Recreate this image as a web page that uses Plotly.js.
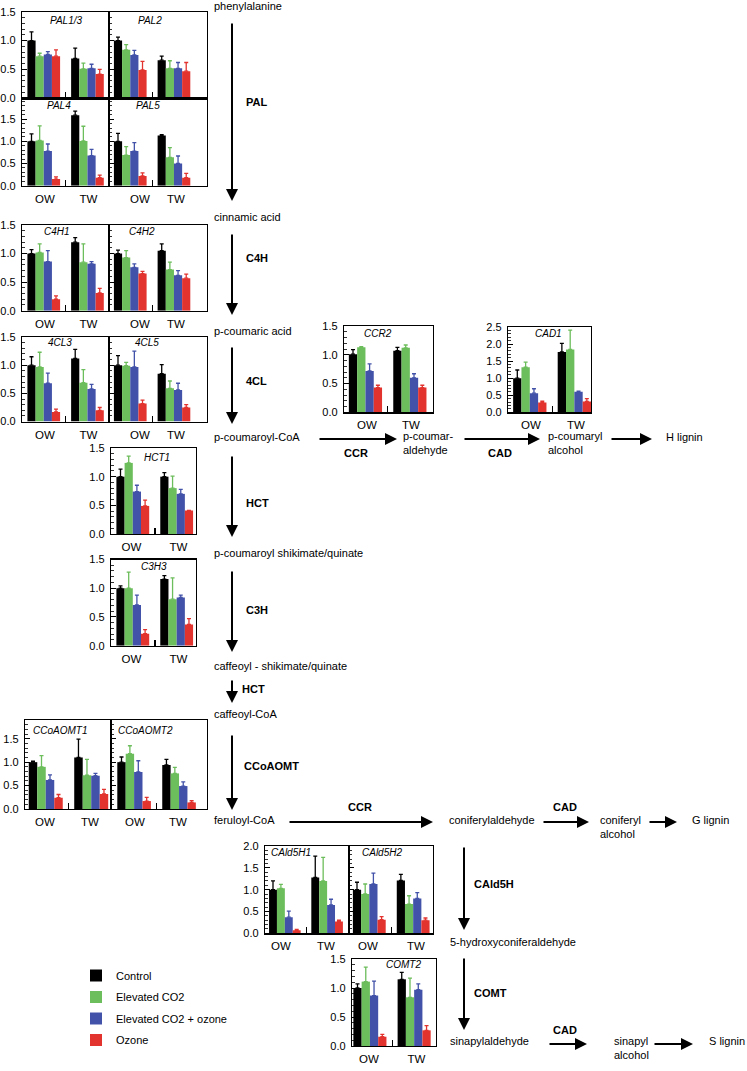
<!DOCTYPE html>
<html><head><meta charset="utf-8">
<script src="https://cdn.plot.ly/plotly-3.0.1.min.js"></script>
<style>html,body{margin:0;padding:0;background:#fff}#chart{width:747px;height:1071px}</style>
</head><body><div id="chart"></div>
<script>
const FONT = 'Liberation Sans, Arial, Helvetica, sans-serif';
const treatments = ['Control', 'Elevated CO2', 'Elevated CO2 + ozone', 'Ozone'];
const sites = ['OW', 'TW'];
const colors = ['#000000', '#6cbd5b', '#4252a8', '#e2332f'];

// values: [OW: Control, CO2, CO2+O3, O3,  TW: Control, CO2, CO2+O3, O3]
const PAL13        = [1.00, 0.73, 0.76, 0.73,  0.69, 0.51, 0.52, 0.42];
const PAL13_err    = [0.15, 0.05, 0.05, 0.11,  0.18, 0.10, 0.07, 0.08];
const PAL2         = [1.00, 0.84, 0.75, 0.49,  0.66, 0.52, 0.52, 0.47];
const PAL2_err     = [0.06, 0.09, 0.08, 0.15,  0.07, 0.13, 0.10, 0.15];
const PAL4         = [1.00, 1.02, 0.78, 0.15,  1.59, 1.01, 0.68, 0.18];
const PAL4_err     = [0.17, 0.33, 0.16, 0.05,  0.09, 0.33, 0.14, 0.06];
const PAL5         = [1.00, 0.69, 0.78, 0.22,  1.13, 0.64, 0.50, 0.18];
const PAL5_err     = [0.18, 0.19, 0.19, 0.07,  0.02, 0.22, 0.17, 0.10];
const C4H1         = [1.00, 1.02, 0.86, 0.20,  1.20, 0.85, 0.82, 0.31];
const C4H1_err     = [0.07, 0.15, 0.19, 0.06,  0.08, 0.32, 0.04, 0.08];
const C4H2         = [1.00, 0.93, 0.76, 0.65,  1.05, 0.72, 0.62, 0.57];
const C4H2_err     = [0.06, 0.12, 0.06, 0.04,  0.12, 0.13, 0.08, 0.07];
const CL3          = [1.00, 0.97, 0.68, 0.17,  1.12, 0.69, 0.58, 0.20];
const CL3_err      = [0.15, 0.26, 0.18, 0.05,  0.16, 0.23, 0.08, 0.05];
const CL5          = [1.00, 0.99, 0.97, 0.32,  0.85, 0.59, 0.56, 0.25];
const CL5_err      = [0.17, 0.06, 0.28, 0.06,  0.16, 0.13, 0.12, 0.05];
const HCT1         = [1.00, 1.24, 0.74, 0.49,  1.00, 0.80, 0.70, 0.41];
const HCT1_err     = [0.13, 0.12, 0.11, 0.10,  0.07, 0.21, 0.08, 0.00];
const C3H3         = [1.00, 1.00, 0.71, 0.21,  1.16, 0.81, 0.84, 0.37];
const C3H3_err     = [0.04, 0.28, 0.17, 0.07,  0.06, 0.37, 0.04, 0.10];
const CCR2         = [1.01, 1.13, 0.72, 0.43,  1.07, 1.12, 0.60, 0.43];
const CCR2_err     = [0.08, 0.01, 0.12, 0.04,  0.06, 0.05, 0.07, 0.04];
const CAD1         = [1.00, 1.32, 0.56, 0.29,  1.77, 1.84, 0.60, 0.32];
const CAD1_err     = [0.24, 0.15, 0.13, 0.04,  0.25, 0.57, 0.02, 0.08];
const CCoAOMT1     = [1.00, 0.90, 0.62, 0.24,  1.10, 0.72, 0.71, 0.32];
const CCoAOMT1_err = [0.02, 0.24, 0.11, 0.07,  0.39, 0.34, 0.05, 0.10];
const CCoAOMT2     = [1.00, 1.18, 0.79, 0.17,  0.94, 0.76, 0.49, 0.14];
const CCoAOMT2_err = [0.11, 0.17, 0.24, 0.08,  0.12, 0.13, 0.09, 0.04];
const CAld5H1      = [1.00, 1.03, 0.37, 0.07,  1.28, 1.20, 0.65, 0.27];
const CAld5H1_err  = [0.20, 0.09, 0.14, 0.02,  0.49, 0.54, 0.13, 0.03];
const CAld5H2      = [1.00, 0.90, 1.13, 0.31,  1.21, 0.67, 0.80, 0.30];
const CAld5H2_err  = [0.17, 0.23, 0.25, 0.07,  0.14, 0.19, 0.13, 0.05];
const COMT2        = [1.00, 1.11, 0.87, 0.16,  1.15, 0.84, 0.97, 0.27];
const COMT2_err    = [0.07, 0.25, 0.25, 0.04,  0.12, 0.33, 0.10, 0.08];

// pathway text
const compounds = ['phenylalanine', 'cinnamic acid', 'p-coumaric acid', 'p-coumaroyl-CoA',
  'p-coumaroyl shikimate/quinate', 'caffeoyl - shikimate/quinate', 'caffeoyl-CoA', 'feruloyl-CoA'];

const W = 747, H = 1071;
const fx = x => x / W, fy = y => 1 - y / H;
const OWpos = [0, 1, 2, 3], TWpos = [5.35, 6.35, 7.35, 8.35], midTick = 4.2;

const panels = [
 {gene:'PAL1/3', v:PAL13, e:PAL13_err, box:[22,109,11.7,98.3], bc:31.5, u:8.17, ymax:1.5, ylab:true, lab:null, tt:[65.5,20]},
 {gene:'PAL2', v:PAL2, e:PAL2_err, box:[109,207,11.7,98.3], bc:118, u:8.17, ymax:1.5, ylab:false, lab:null, tt:[150,20]},
 {gene:'PAL4', v:PAL4, e:PAL4_err, box:[22,109,98.3,185.7], bc:31.5, u:8.17, ymax:1.97, ylab:true, lab:[45,88.5], tt:[58.5,106]},
 {gene:'PAL5', v:PAL5, e:PAL5_err, box:[109,207,98.3,185.7], bc:118, u:8.17, ymax:1.97, ylab:false, lab:[140,176], tt:[148,106]},
 {gene:'C4H1', v:C4H1, e:C4H1_err, box:[22,109,225,310.7], bc:31.5, u:8.17, ymax:1.5, ylab:true, lab:[45,88.5], tt:[56.5,231]},
 {gene:'C4H2', v:C4H2, e:C4H2_err, box:[109,207,225,310.7], bc:118, u:8.17, ymax:1.5, ylab:false, lab:[140,176], tt:[142,231]},
 {gene:'4CL3', v:CL3, e:CL3_err, box:[22,109,337,421.6], bc:31.5, u:8.17, ymax:1.5, ylab:true, lab:[45,88.5], tt:[60.5,343]},
 {gene:'4CL5', v:CL5, e:CL5_err, box:[109,207,337,421.6], bc:118, u:8.17, ymax:1.5, ylab:false, lab:[140,176], tt:[146.5,343]},
 {gene:'HCT1', v:HCT1, e:HCT1_err, box:[111,196,448,534], bc:120.5, u:8.2, ymax:1.5, ylab:true, lab:[131.5,178.5], tt:[156.7,457]},
 {gene:'C3H3', v:C3H3, e:C3H3_err, box:[111,196,559.5,645.7], bc:120.5, u:8.2, ymax:1.5, ylab:true, lab:[131.5,178.5], tt:[154,566]},
 {gene:'CCR2', v:CCR2, e:CCR2_err, box:[344,433,326,412.3], bc:353, u:8.3, ymax:1.5, ylab:true, lab:[367,411], tt:[378,333]},
 {gene:'CAD1', v:CAD1, e:CAD1_err, box:[508,591,327,412.3], bc:517.3, u:8.33, ymax:2.5, ylab:true, lab:[531,576], tt:[548,333]},
 {gene:'CCoAOMT1', v:CCoAOMT1, e:CCoAOMT1_err, box:[25,111,720,809], bc:33, u:8.5, ymax:1.9, ylab:true, lab:[45,90], tt:[60,730]},
 {gene:'CCoAOMT2', v:CCoAOMT2, e:CCoAOMT2_err, box:[111,207,720,809], bc:121.5, u:8.4, ymax:1.9, ylab:false, lab:[135,178], tt:[145.5,730]},
 {gene:'CAld5H1', v:CAld5H1, e:CAld5H1_err, box:[265,349,846,933.3], bc:273, u:7.9, ymax:2.0, ylab:true, lab:[281,326], tt:[290.5,852.5]},
 {gene:'CAld5H2', v:CAld5H2, e:CAld5H2_err, box:[349,433,846,933.3], bc:357, u:8.2, ymax:2.0, ylab:false, lab:[368,416], tt:[382,852.5]},
 {gene:'COMT2', v:COMT2, e:COMT2_err, box:[352,436,959,1046], bc:357.5, u:8.27, ymax:1.5, ylab:true, lab:[369,416.5], tt:[404,964]}
];

const traces = [];
const layout = {
  width: W, height: H, autosize: false,
  margin: {l:0, r:0, t:0, b:0, pad:0},
  paper_bgcolor: '#fff', plot_bgcolor: '#fff',
  font: {family: FONT, size: 11, color: '#000'},
  barmode: 'overlay', showlegend: true,
  legend: {x: fx(76), y: fy(961), xanchor:'left', yanchor:'top', font:{family:FONT, size:11, color:'#000'},
           tracegroupgap: 2.5, bgcolor:'rgba(0,0,0,0)', borderwidth:0},
  annotations: [], shapes: []
};

panels.forEach((p, i) => {
  const n = i + 1, sfx = n === 1 ? '' : String(n);
  const [x0, x1, yt, yb] = p.box;
  treatments.forEach((t, k) => {
    traces.push({
      type:'bar', x:[OWpos[k], TWpos[k]], y:[p.v[k], p.v[4+k]], width:[1,1],
      name:t, legendgroup:t, showlegend: i === 0,
      marker:{color:colors[k], line:{width:0}},
      error_y:{type:'data', symmetric:false, array:[p.e[k], p.e[4+k]], arrayminus:[0,0],
               color:colors[k], thickness:1.3, width:2},
      xaxis:'x'+sfx, yaxis:'y'+sfx, hoverinfo:'skip'
    });
  });
  const toU = px => (px - p.bc) / p.u;
  layout['xaxis'+sfx] = {
    domain:[fx(x0), fx(x1)], range:[toU(x0), toU(x1)], anchor:'y'+sfx,
    showline:true, mirror:true, linecolor:'#000', linewidth:1.2,
    showgrid:false, zeroline:false, fixedrange:true,
    tickmode:'array', tickvals: p.lab ? [toU(p.lab[0]), toU(p.lab[1])] : [],
    ticktext: sites, ticks:'', showticklabels: !!p.lab, ticklabelstandoff: 2,
    tickfont:{family:FONT, size:11.5, color:'#000'},
    minor:{tickmode:'array', tickvals:[midTick], ticks:'inside', ticklen:6, tickwidth:1.2, tickcolor:'#000', showgrid:false}
  };
  layout['yaxis'+sfx] = {
    domain:[fy(yb), fy(yt)], range:[0, p.ymax], anchor:'x'+sfx,
    showline:true, mirror:true, linecolor:'#000', linewidth:1.2,
    showgrid:false, zeroline:false, fixedrange:true,
    tickmode:'linear', tick0:0, dtick:0.5, tickformat:'.1f',
    ticks:'inside', ticklen:5, tickwidth:1, tickcolor:'#000',
    showticklabels: p.ylab, ticklabelstandoff: 3,
    tickfont:{family:FONT, size:11, color:'#000'},
    minor:{dtick:0.1, tick0:0, ticks:'inside', ticklen:2.5, tickwidth:0.8, tickcolor:'#000', showgrid:false}
  };
  layout.annotations.push({xref:'paper', yref:'paper', x:fx(p.tt[0]), y:fy(p.tt[1]),
    text:'<i>'+p.gene+'</i>', showarrow:false, xanchor:'center', yanchor:'middle',
    font:{family:FONT, size:10, color:'#000'}});
});

function txt(s, x, y, xa) {
  return {xref:'paper', yref:'paper', x:fx(x), y:fy(y), text:s, showarrow:false,
          xanchor: xa || 'left', yanchor:'middle', align:'left',
          font:{family:FONT, size:11, color:'#000'}};
}
function arrow(x0, y0, x1, y1) {
  return {xref:'paper', yref:'paper', x:fx(x1), y:fy(y1), ax:x0-x1, ay:y0-y1,
          axref:'pixel', ayref:'pixel', text:'', showarrow:true, arrowhead:2,
          arrowsize:1.2, arrowwidth:2, arrowcolor:'#000', standoff:0, startstandoff:0};
}

const A = layout.annotations;
// left column compounds
[6, 217, 331, 437, 553, 666, 714, 820].forEach((y, i) => A.push(txt(compounds[i], 212, y)));
// vertical arrows in left column with enzyme labels
A.push(arrow(232, 22, 232, 201));   A.push(txt('<b>PAL</b>', 244, 102));
A.push(arrow(232, 233, 232, 315));  A.push(txt('<b>C4H</b>', 244, 258));
A.push(arrow(232, 346, 232, 424));  A.push(txt('<b>4CL</b>', 244, 381));
A.push(arrow(232, 455, 232, 537));  A.push(txt('<b>HCT</b>', 244, 503));
A.push(arrow(232, 570, 232, 652));  A.push(txt('<b>C3H</b>', 244, 610));
A.push(arrow(232, 679, 232, 703));  A.push(txt('<b>HCT</b>', 240, 689));
A.push(arrow(232, 734, 232, 810));  A.push(txt('<b>CCoAOMT</b>', 242, 766));
// H branch
A.push(arrow(318, 439, 397, 439));  A.push(txt('<b>CCR</b>', 356, 453, 'center'));
A.push(txt('p-coumar-<br>aldehyde', 401, 443));
A.push(arrow(463, 439, 540, 439));  A.push(txt('<b>CAD</b>', 500, 453, 'center'));
A.push(txt('p-coumaryl<br>alcohol', 546, 443));
A.push(arrow(610, 439, 652, 439));  A.push(txt('H lignin', 664, 437));
// G branch
A.push(arrow(288, 822, 433, 822));  A.push(txt('<b>CCR</b>', 360, 807, 'center'));
A.push(txt('coniferylaldehyde', 447, 820));
A.push(arrow(542, 822, 589, 822));  A.push(txt('<b>CAD</b>', 565, 807, 'center'));
A.push(txt('coniferyl<br>alcohol', 598, 827));
A.push(arrow(648, 822, 677, 822));  A.push(txt('G lignin', 690, 820));
// S branch
A.push(arrow(464, 846, 464, 930));  A.push(txt('<b>CAld5H</b>', 472, 884));
A.push(txt('5-hydroxyconiferaldehyde', 448, 942));
A.push(arrow(464, 957, 464, 1030)); A.push(txt('<b>COMT</b>', 472, 993));
A.push(txt('sinapylaldehyde', 448, 1041));
A.push(arrow(548, 1044, 587, 1044)); A.push(txt('<b>CAD</b>', 565, 1030, 'center'));
A.push(txt('sinapyl<br>alcohol', 612, 1048));
A.push(arrow(653, 1044, 693, 1044)); A.push(txt('S lignin', 707, 1041));

Plotly.newPlot('chart', traces, layout, {displayModeBar:false, staticPlot:true});
</script></body></html>
